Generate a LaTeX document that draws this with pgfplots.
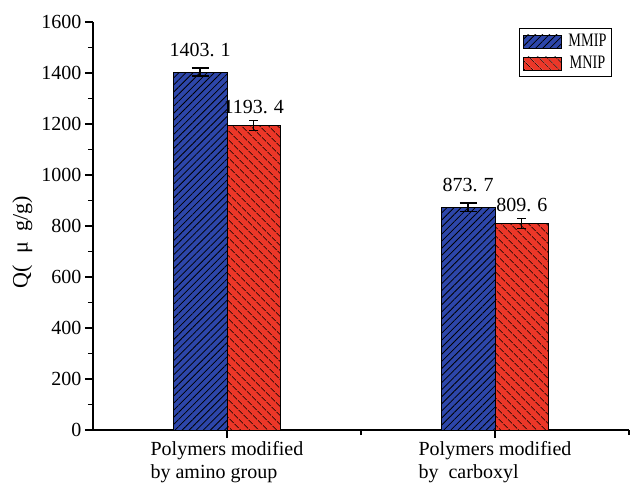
\documentclass[border=0pt]{standalone}
\usepackage{pgfplots}
\pgfplotsset{compat=1.18}
\usepackage{fontspec}
\setmainfont{Liberation Serif}
\newfontfamily\narrowfont[FakeStretch=0.75]{Liberation Serif}
\usetikzlibrary{patterns.meta}
\definecolor{barblue}{RGB}{45,70,170}
\definecolor{barred}{RGB}{236,55,40}

\begin{document}
\begin{tikzpicture}
\begin{axis}[
    scale only axis,
    width=536pt, height=408pt,
    xmin=0.5, xmax=2.5,
    ymin=0, ymax=1600,
    axis x line=bottom, axis y line=left,
    axis line style={line width=1.2pt,-},
    tick style={line width=1.2pt,black},
    tick align=outside,
    major tick length=8pt, minor tick length=5pt,
    xtick={1,2}, minor xtick={1.5,2.5},
    xticklabels={Polymers modified\\by amino group, Polymers modified\\by\ \ carboxyl},
    xticklabel style={align=left, font=\fontsize{20}{23}\selectfont},
    ytick={0,200,...,1600}, minor ytick={100,300,...,1500},
    yticklabel style={font=\fontsize{20}{23}\selectfont},
    /pgf/number format/assume math mode=true,
    /pgf/number format/1000 sep={},
    ylabel={Q(\hspace{0.5em}μ\hspace{0.5em}g/g)},
    ylabel style={at={(axis description cs:-0.132,0.461)}, anchor=center,
        font=\fontsize{22}{24}\selectfont},
    ybar, bar width=0.2,
    nodes near coords={\pgfmathprintnumber[fixed,fixed zerofill,precision=1,1000 sep={},dec sep={.\hspace{0.3em}}]{\pgfplotspointmeta}},
    every node near coord/.append style={font=\fontsize{20}{21}\selectfont, black},
    legend style={at={(0.968,0.985)}, anchor=north east, draw=black,
        line width=0.8pt, font=\narrowfont\fontsize{19}{21}\selectfont,
        row sep=4pt, inner xsep=3pt, inner ysep=4pt},
    legend image code/.code={\draw[#1] (0pt,-6.5pt) rectangle (38pt,6.5pt); \path (43pt,0pt);},
]
\addplot[bar shift=-0.1, fill=barblue, draw=black, line width=0.6pt,
    postaction={pattern={Lines[angle=45,distance=5pt,line width=0.8pt]}, pattern color=black},
    every node near coord/.append style={yshift=12pt},
    error bars/.cd, y dir=both, y explicit,
    error bar style={line width=1.6pt, black},
    error mark options={rotate=90, mark size=8.5pt, line width=1.6pt, black}]
    table[x=x, y=y, y error=e] {
    x y e
    1 1403.1 16
    2 873.7 17
};
\addplot[bar shift=0.1, fill=barred, draw=black, line width=0.6pt,
    postaction={pattern={Lines[angle=-45,distance=6.5pt,line width=0.8pt]}, pattern color=black},
    every node near coord/.append style={yshift=8pt},
    error bars/.cd, y dir=both, y explicit,
    error bar style={line width=0.9pt, black},
    error mark options={rotate=90, mark size=4.5pt, line width=0.9pt, black}]
    table[x=x, y=y, y error=e] {
    x y e
    1 1193.4 20
    2 809.6 21
};
\legend{MMIP, MNIP}
\end{axis}
\pgfresetboundingbox
\path (current axis.south west) ++(-93pt,-62pt) rectangle ([shift={(2pt,22pt)}]current axis.north east);
\end{tikzpicture}
\end{document}
